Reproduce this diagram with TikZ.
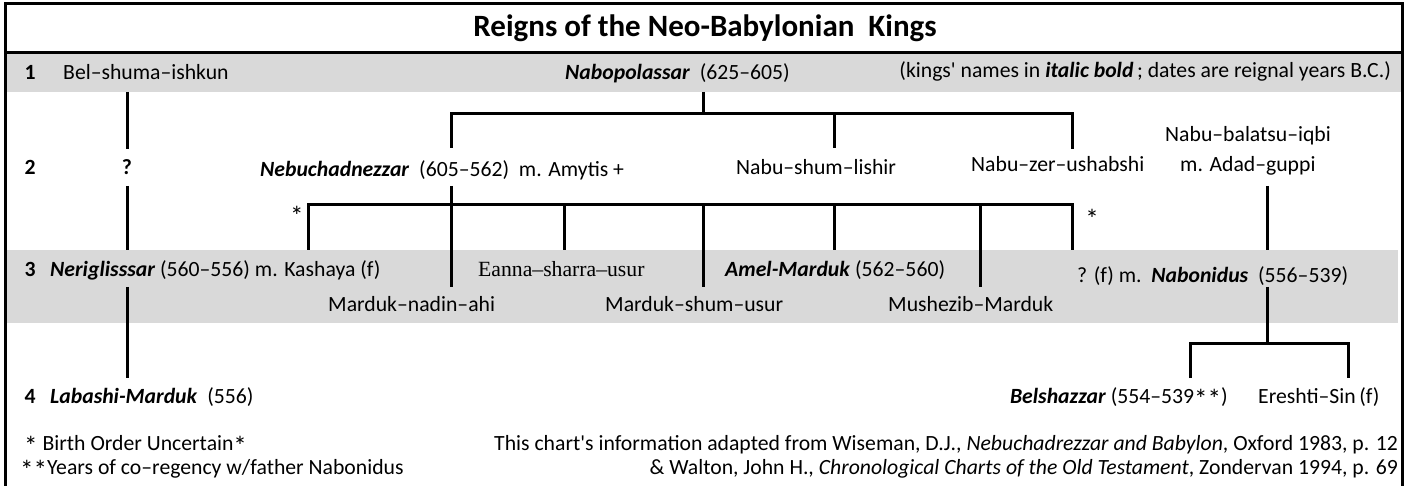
\documentclass[tikz,border=0pt]{standalone}
\usepackage{fontspec}
\setmainfont{Carlito}
\newfontfamily\oldserif{Liberation Serif}
\usepackage{graphicx}
\usepackage{xcolor}
\usepackage{tikz}
\usetikzlibrary{calc}
\definecolor{bg}{HTML}{FFFFFF}
\definecolor{band}{HTML}{D9D9D9}
\definecolor{ink}{HTML}{000000}
\tikzset{
  frame/.style={draw=ink, line width=3pt},
  link/.style={draw=ink, line width=3pt, line join=miter},
  lab/.style={text=ink, inner sep=0pt, font=\fontsize{21.7}{26}\selectfont},
  num/.style={lab, font=\fontsize{21.7}{26}\selectfont\bfseries},
  ttl/.style={text=ink, inner sep=0pt, font=\fontsize{31}{36}\selectfont\bfseries},
  notes/.style={lab, text height=15pt, text depth=4pt},
}
\newcommand{\kingname}[1]{\textbf{\textit{#1}}}
\newcommand{\lowstar}{\raisebox{-0.5ex}{\scalebox{1.25}{*}}}

\begin{document}
\begin{tikzpicture}[x=1pt,y=-1pt]
  \useasboundingbox (0,0) rectangle (1411,486);
  % bands and frame
  \fill[band] (5,54) rectangle (1402,92);
  \fill[band] (5,250) rectangle (1398,323);
  \draw[frame] (5,490) -- (5,4) -- (1402,4) -- (1402,490);
  \draw[frame] (5,53) -- (1402,53);
  \node[ttl, anchor=base] (title) at (705,37) {Reigns of the Neo-Babylonian\ \ Kings};

  % generation 1
  \node[num, anchor=base] (g1) at (30,80) {1};
  \node[lab, anchor=base west] (bel) at (63,80) {Bel–shuma–ishkun};
  \node[lab, anchor=base west] (nabo) at (565,80) {\kingname{Nabopolassar}\ \ (625–605)};
  \node[lab, anchor=base east] (key) at (1391,78) {(kings\textquotesingle{} names in \kingname{italic bold}\,; dates are reignal years B.C.)};

  % generation 2
  \node[num, anchor=base] (g2) at (30,175) {2};
  \node[num, anchor=base] (unk) at (127,175) {?};
  \node[lab, anchor=base west] (nebu) at (260,177) {\kingname{Nebuchadnezzar}\ \ (605–562)\ \ m. Amytis +};
  \node[lab, anchor=base west] (shum) at (736,175) {Nabu–shum–lishir};
  \node[lab, anchor=base west] (zer) at (971,172) {Nabu–zer–ushabshi};
  \node[lab, anchor=base west] (bala) at (1165,142) {Nabu–balatsu–iqbi};
  \node[lab, anchor=base west] (adad) at (1180,172) {m. Adad–guppi};
  \node[lab, anchor=base] (starL) at (297,220) {\lowstar};
  \node[lab, anchor=base] (starR) at (1092,223) {\lowstar};

  % generation 3
  \node[num, anchor=base] (g3) at (30,277) {3};
  \node[lab, anchor=base west] (neri) at (50,277) {\kingname{Neriglisssar} (560–556) m. Kashaya (f)};
  \node[lab, anchor=base west, font=\fontsize{21.7}{26}\oldserif] (eanna) at (478,277) {Eanna–sharra–usur};
  \node[lab, anchor=base west] (amel) at (725,277) {\kingname{Amel-Marduk} (562–560)};
  \node[lab, anchor=base west] (nbd) at (1077,283) {? (f) m.\ \ \kingname{Nabonidus}\ \ (556–539)};
  \node[lab, anchor=base west] (nadin) at (328,312) {Marduk–nadin–ahi};
  \node[lab, anchor=base west] (mss) at (605,312) {Marduk–shum–usur};
  \node[lab, anchor=base west] (mush) at (888,312) {Mushezib–Marduk};

  % generation 4
  \node[num, anchor=base] (g4) at (30,403) {4};
  \node[lab, anchor=base west] (laba) at (50,403) {\kingname{Labashi-Marduk}\ \ (556)};
  \node[notes, anchor=base east] (belsh) at (1228,403) {\kingname{Belshazzar} (554–539\lowstar\lowstar)};
  \node[lab, anchor=base west] (eresh) at (1258,403) {Ereshti–Sin\,(f)};

  % notes
  \node[notes, anchor=base west] (noteA) at (24,450) {\lowstar{} Birth Order Uncertain\lowstar};
  \node[notes, anchor=base west] (noteB) at (20,474) {\lowstar\lowstar Years of co–regency w/father Nabonidus};
  \node[notes, anchor=base east] (srcA) at (1398,450) {This chart\textquotesingle s information adapted from Wiseman, D.J., \textit{Nebuchadrezzar and Babylon}, Oxford 1983, p. 12};
  \node[notes, anchor=base east] (srcB) at (1398,474) {\& Walton, John H., \textit{Chronological Charts of the Old Testament}, Zondervan 1994, p. 69};

  % line ends
  \coordinate (belA) at (127,92);  \coordinate (belB) at (127,149);
  \coordinate (unkA) at (127,186); \coordinate (unkB) at (127,250);
  \coordinate (neriA) at (127,287); \coordinate (neriB) at (127,378);
  \coordinate (naboA) at (703,92); \coordinate (naboJ) at (703,114);
  \coordinate (nebuT) at (451,114); \coordinate (zerT) at (1072,114);
  \coordinate (nebuA) at (451,186); \coordinate (nadinB) at (451,287);
  \coordinate (kasT) at (308,205); \coordinate (qfT) at (1072,205);
  \coordinate (balaA) at (1267,186); \coordinate (balaB) at (1267,250);
  \coordinate (nbdA) at (1267,287); \coordinate (nbdJ) at (1267,343);
  \coordinate (belshT) at (1190,343); \coordinate (ereshT) at (1348,343);

  % connectors
  \draw[link] (belA) -- (belB);
  \draw[link] (unkA) -- (unkB);
  \draw[link] (neriA) -- (neriB);
  \draw[link] (naboA) -- (naboJ);
  \draw[link] ($(nebuT)+(0,34)$) -- (nebuT) -- (zerT) -- ++(0,35);
  \draw[link] (834,114) -- (834,148);
  \draw[link] (nebuA) -- (nadinB);
  \draw[link] ($(kasT)+(0,45)$) -- (kasT) -- (qfT) -- ++(0,45);
  \foreach \x/\y in {564/250,703/287,834/250,980/287}
    \draw[link] (\x,205) -- (\x,\y);
  \draw[link] (balaA) -- (balaB);
  \draw[link] (nbdA) -- (nbdJ);
  \draw[link] ($(belshT)+(0,35)$) -- (belshT) -- (ereshT) -- ++(0,35);
\end{tikzpicture}
\end{document}
